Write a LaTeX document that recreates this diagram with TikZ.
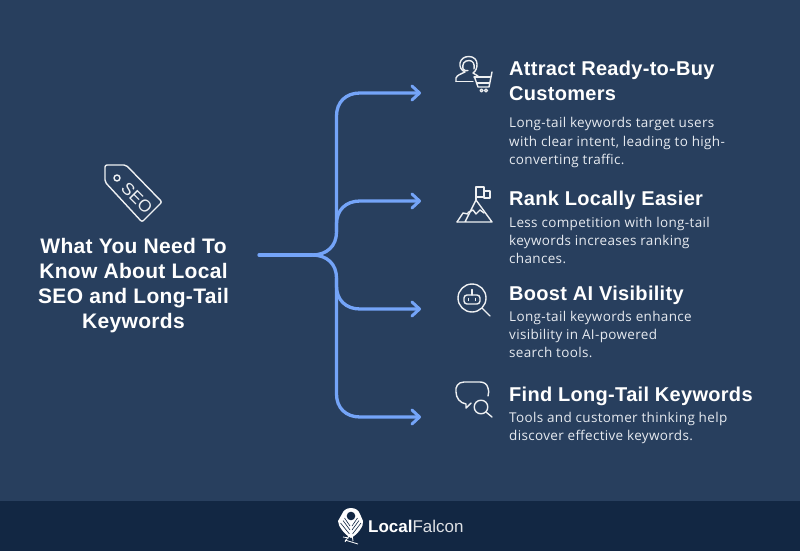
\documentclass[tikz,border=0pt]{standalone}
\usepackage{fontspec}
\setmainfont{Liberation Sans}
\newfontfamily\bodyfont[LetterSpace=2.5]{Open Sans}
\newfontfamily\headfont[LetterSpace=1.5]{Liberation Sans}
\usetikzlibrary{arrows.meta}
\definecolor{panel}{HTML}{283F5E}
\definecolor{band}{HTML}{122743}
\definecolor{flow}{HTML}{74A4F8}
\definecolor{bodytxt}{HTML}{E6EAF0}
\colorlet{icon}{white!92!panel}
\tikzset{
 flowline/.style={draw=flow,line width=3.3pt,line cap=round,line join=round},
 flowarrow/.style={flowline,-{Straight Barb[length=7.5pt,width=14pt,line width=3pt,round]}},
 ico/.style={draw=icon,line width=1.4pt,line cap=round,line join=round},
 head/.style={anchor=base west,inner sep=0pt,text=white,font=\headfont\fontsize{20}{25}\selectfont\bfseries,align=left},
 bodyt/.style={anchor=north west,inner sep=0pt,text=bodytxt,font=\bodyfont\fontsize{13.5}{18.2}\selectfont,align=left},
 title/.style={inner sep=0pt,text=white,align=center,font=\headfont\fontsize{21}{25}\selectfont\bfseries},
}
\begin{document}
\begin{tikzpicture}[x=1pt,y=-1pt]
\useasboundingbox (0,0) rectangle (800,551);
\fill[panel] (0,0) rectangle (800,551);
\fill[band] (0,501) rectangle (800,551);
% flow
\coordinate (root) at (259,255);
\coordinate (hub) at (312,255);
\coordinate (t1) at (421,93);
\coordinate (t2) at (421,201);
\coordinate (t3) at (421,309);
\coordinate (t4) at (421,417);
\draw[flowline] (root) -- (hub);
\draw[flowarrow] (hub) .. controls (327,255) and (336.5,246) .. (336.5,232) -- (336.5,116) .. controls (336.5,102) and (346,93) .. (360,93) -- (t1);
\draw[flowarrow] (336.5,232) -- (336.5,224) .. controls (336.5,210) and (346,201) .. (360,201) -- (t2);
\draw[flowarrow] (hub) .. controls (327,255) and (336.5,264) .. (336.5,278) -- (336.5,286) .. controls (336.5,300) and (346,309) .. (360,309) -- (t3);
\draw[flowarrow] (336.5,278) -- (336.5,394) .. controls (336.5,408) and (346,417) .. (360,417) -- (t4);
% title
\node[title] (ttl) at (133.5,285.5) {What You Need To\\Know About Local\\SEO and Long-Tail\\Keywords};
% SEO tag
\draw[ico,rounded corners=2pt] (105,165) -- (126,165) -- (162,202) -- (142,222) -- (105,182) -- cycle;
\draw[ico] (117,178) circle (3);
\node[inner sep=0pt,text=icon,rotate=-45,font=\fontsize{17}{17}\selectfont] (seo) at (137,198) {SEO};
% headings
\node[head] (h1a) at (509,75) {Attract Ready-to-Buy};
\node[head] (h1b) at (509,100) {Customers};
\node[bodyt] (b1) at (509,117.5) {Long-tail keywords target users\\with clear intent, leading to high-\\converting traffic.};
\node[head] (h2) at (509,205.5) {Rank Locally Easier};
\node[bodyt] (b2) at (509,217) {Less competition with long-tail\\keywords increases ranking\\chances.};
\node[head] (h3) at (509,300) {Boost AI Visibility};
\node[bodyt] (b3) at (509,311) {Long-tail keywords enhance\\visibility in AI-powered\\search tools.};
\node[head] (h4) at (509,401) {Find Long-Tail Keywords};
\node[bodyt] (b4) at (509,412) {Tools and customer thinking help\\discover effective keywords.};
% icon 1: headset person + cart
\draw[ico] (456,81.5) -- (456,78) .. controls (457,75) and (461,74) .. (465,72) .. controls (461,70) and (459.5,67) .. (460,63) .. controls (461,59) and (464,56.5) .. (469,56.5) .. controls (474,56.5) and (477,60) .. (477,64) .. controls (477,68) and (476,71) .. (473,73) -- (478,76);
\draw[ico] (463,69) .. controls (462,64) and (464,60.5) .. (469,60.5) .. controls (473,60.5) and (475,64) .. (474,69);
\draw[ico] (463,69) .. controls (465,71) and (466,71) .. (468,70.5);
\draw[ico] (456,81.5) -- (473,81.5);
\draw[ico] (474,77) -- (490.5,77);
\draw[ico] (492,72) -- (489,87) -- (478,87) -- (474.5,77);
\draw[ico] (476.5,83) -- (489.5,83);
\draw[ico] (481.5,90.5) circle (1.5);
\draw[ico] (486,90.5) circle (1.5);
% icon 2: mountain
\draw[ico] (457,222) -- (492,222) -- (476,200) -- (465,222);
\draw[ico] (457,222) -- (463,213) -- (468,214);
\draw[ico] (468,212.5) -- (473,210) -- (476,214) -- (480,210) -- (484,213);
\draw[ico] (476,200) -- (476,187) -- (484,187) -- (484,197) -- (476,197);
\draw[ico] (484,191) -- (490,191) -- (490,198) -- (484,198) -- (484,197);
% icon 3: robot magnifier
\draw[ico] (472,298) circle (14);
\draw[ico] (482,308) -- (490,316);
\draw[ico,rounded corners=3pt] (464,295) rectangle (480,304);
\draw[ico] (472,289.5) -- (472,295);
\draw[ico] (468.5,298.5) -- (468.5,300.5);
\draw[ico] (475.5,298.5) -- (475.5,300.5);
% icon 4: speech + magnifier
\draw[ico] (488,396) .. controls (489,393) and (489,390) .. (488,388) .. controls (487,384) and (484,382) .. (480,382) -- (464,382) .. controls (458,382) and (455,387) .. (456,392) .. controls (456,398) and (460,403) .. (466,404) -- (466,408) -- (471,403);
\draw[ico] (481,407) circle (6.8);
\draw[ico] (486,412) -- (492,417);
% logo
\fill[white] (351,508) .. controls (346,508) and (343,511) .. (342,514) -- (338,521) .. controls (338,526) and (344,534) .. (351,538) .. controls (358,534) and (364,526) .. (363,521) -- (360,514) .. controls (359,511) and (356,508) .. (351,508) -- cycle;
\fill[band] (351,516) circle (4.3);
\draw[band,line width=.6pt] (340.5,523) -- (349.5,534) (343,520.5) -- (350,530) (344.5,518) -- (350,526) (361,523) -- (352.5,534) (359,520.5) -- (352,530) (357.5,518) -- (352,526);
\draw[white,line width=.8pt] (350,534) -- (345,542) (352,534) -- (353,541) (345,540) -- (358,544) (349,538) -- (343,537);
\node[anchor=base west,inner sep=0pt,text=white,font=\fontsize{17}{20}\selectfont] (logo) at (368,532) {\textbf{Local}\textcolor{white!86!band}{Falcon}};
\end{tikzpicture}
\end{document}
